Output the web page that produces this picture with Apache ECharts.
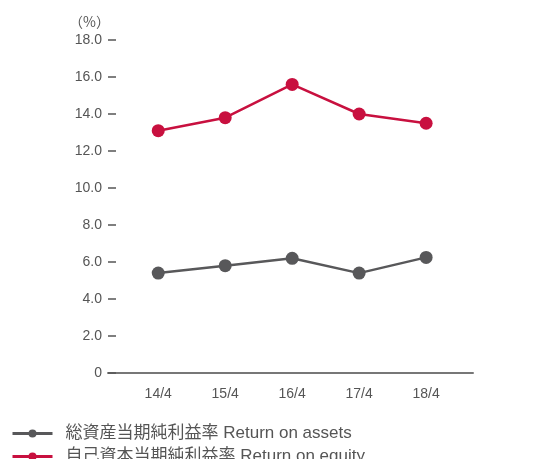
<!DOCTYPE html>
<html>
<head>
<meta charset="utf-8">
<script src="https://cdn.jsdelivr.net/npm/echarts@6/dist/echarts.min.js"></script>
<style>
html, body { margin: 0; padding: 0; background: #fff; }
#chart { width: 537px; height: 459px; }
</style>
</head>
<body>
<div id="chart"></div>
<script>
var categories = ['14/4', '15/4', '16/4', '17/4', '18/4'];
var roaValues = [5.4, 5.8, 6.2, 5.4, 6.25];
var roeValues = [13.1, 13.8, 15.6, 14.0, 13.5];
var roaName = '総資産当期純利益率 Return on assets';
var roeName = '自己資本当期純利益率 Return on equity';

var FONT = "'Liberation Sans', 'Noto Sans CJK JP', sans-serif";
var TEXT = '#555555';

function toPoints(values) {
    var pts = [];
    for (var i = 0; i < values.length; i++) {
        pts.push([i, values[i]]);
    }
    return pts;
}

function legendAt(top, name) {
    return {
        left: 6,
        top: top,
        itemWidth: 40,
        itemHeight: 10,
        lineStyle: { width: 3 },
        textStyle: { color: TEXT, fontFamily: FONT, fontSize: 17, padding: [0, 0, 0, 8] },
        data: [name]
    };
}

var chart = echarts.init(document.getElementById('chart'));
chart.setOption({
    animation: false,
    grid: { left: 108, right: 64, top: 40, bottom: 86 },
    xAxis: {
        type: 'value',
        min: -0.75,
        max: 4.7,
        splitLine: { show: false },
        axisTick: { show: false },
        axisLine: { show: true, onZero: false, lineStyle: { color: '#777777', width: 2 } },
        axisLabel: {
            customValues: [0, 1, 2, 3, 4],
            margin: 14,
            color: TEXT,
            fontFamily: FONT,
            fontSize: 14,
            formatter: function (v) { return categories[Math.round(v)] || ''; }
        }
    },
    yAxis: {
        type: 'value',
        min: 0,
        max: 18,
        interval: 2,
        name: '（%）',
        nameLocation: 'end',
        nameGap: 11,
        nameTextStyle: { color: TEXT, fontFamily: "'Noto Sans CJK JP', sans-serif", fontSize: 14, align: 'right', padding: [0, -2, 0, 0] },
        splitLine: { show: false },
        axisLine: { show: false, onZero: false },
        axisTick: {
            show: true,
            inside: true,
            length: 8,
            lineStyle: { color: '#555555', width: 1.5 }
        },
        axisLabel: {
            margin: 6,
            color: TEXT,
            fontFamily: FONT,
            fontSize: 14,
            formatter: function (v) { return v === 0 ? '0' : v.toFixed(1); }
        }
    },
    legend: [legendAt(420, roaName), legendAt(443, roeName)],
    series: [{
        name: roaName,
        type: 'line',
        data: toPoints(roaValues),
        symbol: 'circle',
        symbolSize: 13,
        lineStyle: { color: '#58585a', width: 2.5 },
        itemStyle: { color: '#58585a' }
    }, {
        name: roeName,
        type: 'line',
        data: toPoints(roeValues),
        symbol: 'circle',
        symbolSize: 13,
        lineStyle: { color: '#c8103f', width: 2.5 },
        itemStyle: { color: '#c8103f' }
    }]
});
</script>
</body>
</html>
